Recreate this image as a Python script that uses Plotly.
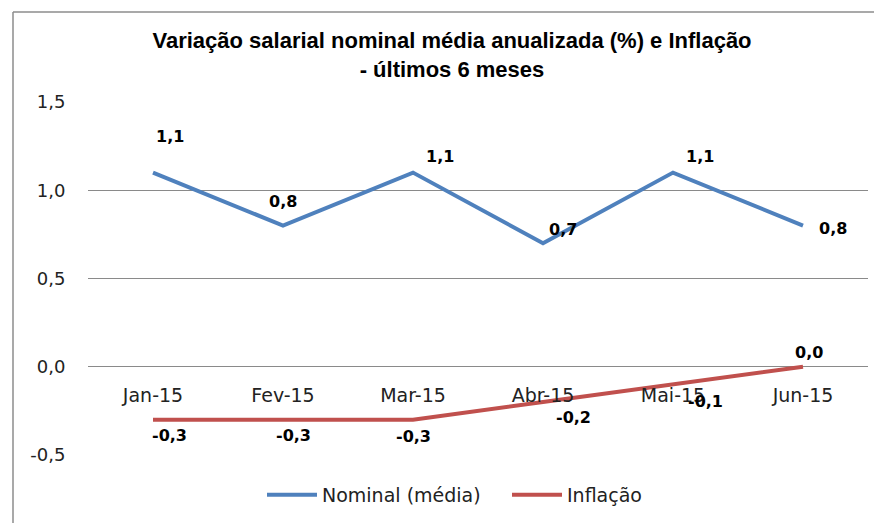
import plotly.graph_objects as go

categories = ["Jan-15", "Fev-15", "Mar-15", "Abr-15", "Mai-15", "Jun-15"]
nominal = [1.1, 0.8, 1.1, 0.7, 1.1, 0.8]
inflacao = [-0.3, -0.3, -0.3, -0.2, -0.1, 0.0]
y_ticks = [-0.5, 0.0, 0.5, 1.0, 1.5]
y_tick_labels = ["-0,5", "0,0", "0,5", "1,0", "1,5"]

BLUE = "#4F81BD"
RED = "#C0504D"
FONT = "DejaVu Sans, Verdana, sans-serif"

# label offsets (pixels) per point
nom_shift = [(17, 36), (0, 24), (27, 16), (20, 14), (27, 16), (30, -3)]
inf_shift = [(16, -16), (10, -16), (0, -17), (30, -15), (32, -17), (6, 14)]

fig = go.Figure()
fig.add_trace(go.Scatter(x=categories, y=nominal, mode="lines", name="Nominal (média)",
                         line=dict(color=BLUE, width=4)))
fig.add_trace(go.Scatter(x=categories, y=inflacao, mode="lines", name="Inflação",
                         line=dict(color=RED, width=4)))

def fmt(v):
    return f"{v:.1f}".replace(".", ",")

annotations = []
for series, shifts in ((nominal, nom_shift), (inflacao, inf_shift)):
    for c, v, (dx, dy) in zip(categories, series, shifts):
        annotations.append(dict(x=c, y=v, xref="x", yref="y", text=fmt(v), showarrow=False,
                                xshift=dx, yshift=dy,
                                font=dict(family=FONT, size=16, color="black", weight="bold")))

ymin, ymax = -0.5, 1.5
zero_pos = (0 - ymin) / (ymax - ymin)

W, H = 874, 523
L, R, T, B = 88, 6, 102, 68
PW, PH = W - L - R, H - T - B

fig.update_layout(
    width=W, height=H,
    margin=dict(l=L, r=R, t=T, b=B, autoexpand=False),
    paper_bgcolor="white", plot_bgcolor="white",
    title=dict(text="<b>Variação salarial nominal média anualizada (%) e Inflação<br>- últimos 6 meses</b>",
               x=(452 - L) / PW, xref="paper", xanchor="center",
               y=1 - 48 / H, yref="container", yanchor="top",
               font=dict(family="Liberation Sans Narrow, Arial Narrow, Liberation Sans, sans-serif",
                         size=22, color="black")),
    xaxis=dict(type="category", range=[-0.5, 5.5], showgrid=False, showline=False,
               anchor="free", position=zero_pos, ticks="outside", ticklen=11,
               tickcolor="rgba(0,0,0,0)", tickfont=dict(family=FONT, size=19, color="#222"),
               zeroline=False),
    yaxis=dict(range=[ymin, ymax], tickvals=y_ticks, ticktext=y_tick_labels,
               showgrid=True, gridcolor="#8a8a8a", gridwidth=1, zeroline=False,
               showline=False, ticks="outside", ticklen=18, tickcolor="rgba(0,0,0,0)",
               tickfont=dict(family=FONT, size=18, color="#222")),
    legend=dict(orientation="h", x=(262 - L) / PW, xanchor="left", y=-(476 - 455) / PH, yanchor="top",
                font=dict(family=FONT, size=19, color="#222"), itemwidth=50,
                entrywidth=180, entrywidthmode="pixels"),
    annotations=annotations,
    showlegend=True,
)

# outer chart frame (left and top edges)
fx = (13 - L) / PW
fy = 1 + (T - 12) / PH
fig.add_shape(type="line", xref="paper", yref="paper",
              x0=fx, x1=fx, y0=fy, y1=-B / PH,
              line=dict(color="#8c8c8c", width=1.5))
fig.add_shape(type="line", xref="paper", yref="paper",
              x0=fx, x1=1 + R / PW, y0=fy, y1=fy,
              line=dict(color="#8c8c8c", width=1.5))

fig.write_html("out.html", config={"displayModeBar": False},
               post_script="document.body.style.margin='0';")
